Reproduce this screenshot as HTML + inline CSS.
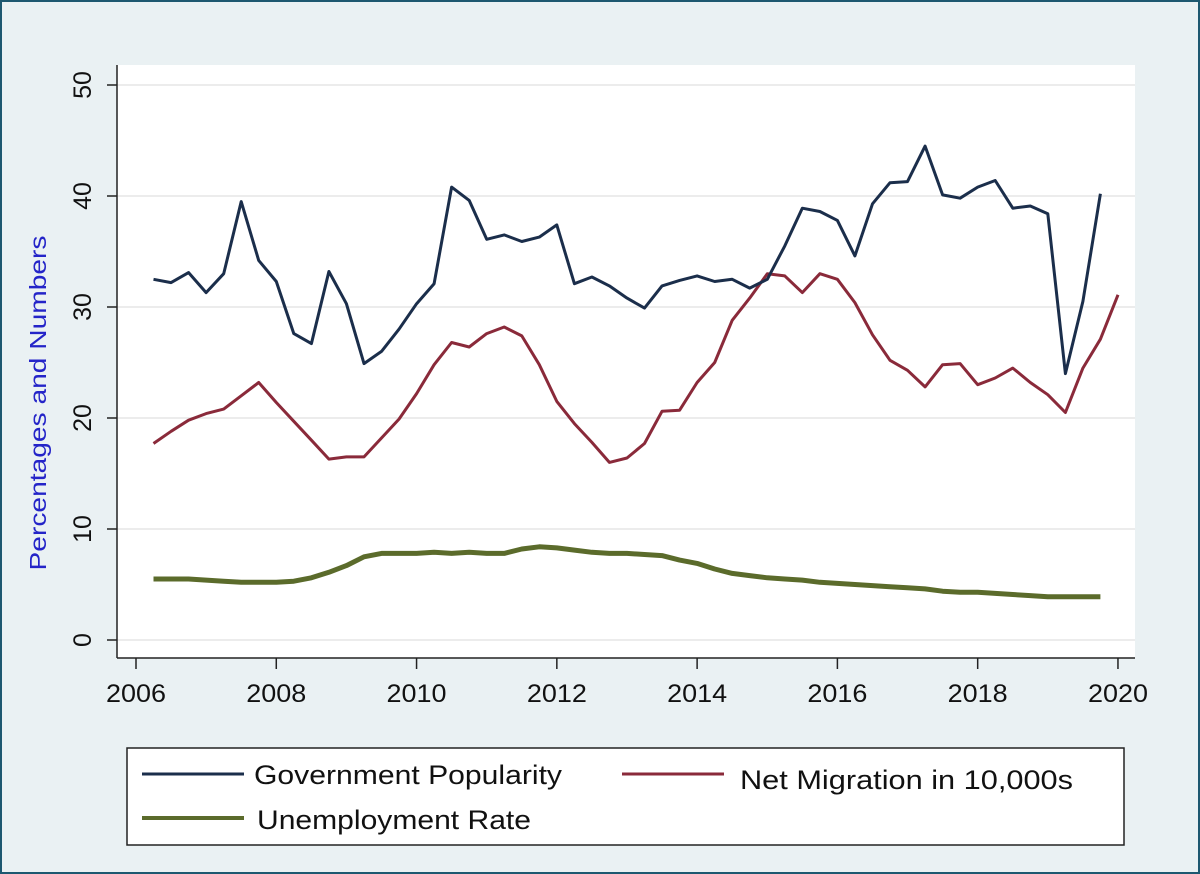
<!DOCTYPE html>
<html><head><meta charset="utf-8"><style>
html,body{margin:0;padding:0;background:#eaf1f3;}
svg{display:block;font-family:"Liberation Sans",Arial,sans-serif;}
</style></head><body>
<svg id="chart" width="1200" height="874" viewBox="0 0 1200 874">
<rect x="1" y="1" width="1198" height="872" fill="#eaf1f3" stroke="#1d5870" stroke-width="2"/>
<rect x="117" y="65" width="1018" height="593" fill="#ffffff"/>
<g id="grid"></g>
<g id="axes"></g>
<g id="series"></g>
<text x="46" y="403" transform="rotate(-90 46 403)" text-anchor="middle" font-size="23" textLength="335" lengthAdjust="spacingAndGlyphs" fill="#2424c8">Percentages and Numbers</text>
<g>
<rect x="127" y="748" width="997" height="97" fill="#ffffff" stroke="#222" stroke-width="1.5"/>
<line x1="142" y1="774" x2="244" y2="774" stroke="#1b2e4b" stroke-width="3"/>
<text x="254" y="784" font-size="27" textLength="308" lengthAdjust="spacingAndGlyphs" fill="#111">Government Popularity</text>
<line x1="622" y1="774" x2="724" y2="774" stroke="#8a2a3a" stroke-width="3"/>
<text x="740" y="789" font-size="27" textLength="333" lengthAdjust="spacingAndGlyphs" fill="#111">Net Migration in 10,000s</text>
<line x1="142" y1="818" x2="244" y2="818" stroke="#5b6b2b" stroke-width="4"/>
<text x="257" y="829" font-size="27" textLength="274" lengthAdjust="spacingAndGlyphs" fill="#111">Unemployment Rate</text>
</g>
</svg>
<script>
const yTicks = [0,10,20,30,40,50];
const xTicks = [2006,2008,2010,2012,2014,2016,2018,2020];
const govStart = 2006.25;
const government = [32.5,32.2,33.1,31.3,33,39.5,34.2,32.3,27.6,26.7,33.2,30.3,24.9,26,28,30.3,32.1,40.8,39.6,36.1,36.5,35.9,36.3,37.4,32.1,32.7,31.9,30.8,29.9,31.9,32.4,32.8,32.3,32.5,31.7,32.5,35.5,38.9,38.6,37.8,34.6,39.3,41.2,41.3,44.5,40.1,39.8,40.8,41.4,38.9,39.1,38.4,24,30.5,40.2];
const migration = [17.7,18.8,19.8,20.4,20.8,22,23.2,21.4,19.7,18,16.3,16.5,16.5,18.2,19.9,22.2,24.8,26.8,26.4,27.6,28.2,27.4,24.8,21.5,19.5,17.8,16,16.4,17.7,20.6,20.7,23.2,25,28.8,30.8,33,32.8,31.3,33,32.5,30.4,27.5,25.2,24.3,22.8,24.8,24.9,23,23.6,24.5,23.2,22.1,20.5,24.5,27.1,31.1];
const unemployment = [5.5,5.5,5.5,5.4,5.3,5.2,5.2,5.2,5.3,5.6,6.1,6.7,7.5,7.8,7.8,7.8,7.9,7.8,7.9,7.8,7.8,8.2,8.4,8.3,8.1,7.9,7.8,7.8,7.7,7.6,7.2,6.9,6.4,6,5.8,5.6,5.5,5.4,5.2,5.1,5,4.9,4.8,4.7,4.6,4.4,4.3,4.3,4.2,4.1,4,3.9,3.9,3.9,3.9];

const NS='http://www.w3.org/2000/svg';
const xs = t => 136 + (t-2006)*70.14;
const ys = v => 640 - v*11.1;
function mk(tag, attrs, parent){const e=document.createElementNS(NS,tag);for(const k in attrs)e.setAttribute(k,attrs[k]);parent.appendChild(e);return e;}
const grid=document.getElementById('grid'), axes=document.getElementById('axes'), ser=document.getElementById('series');

yTicks.forEach(v=>{
  const g=mk('line',{x1:117,x2:1135,y1:ys(v),y2:ys(v),stroke:'#ececec','stroke-width':2},grid);
  
  
  const t=mk('line',{x1:107,x2:117,y1:ys(v),y2:ys(v),stroke:'#222','stroke-width':1.5},axes);
  
  
  const y=ys(v), x=91;
  const l=mk('text',{x:x,y:y,transform:`rotate(-90 ${x} ${y})`,'text-anchor':'middle','font-size':25,fill:'#111'},axes);
  l.textContent=v;
  
  
});
xTicks.forEach(v=>{
  const t=mk('line',{x1:xs(v),x2:xs(v),y1:658,y2:669,stroke:'#222','stroke-width':1.5},axes);
  
  
  const l=mk('text',{x:xs(v),y:702,'text-anchor':'middle','font-size':25,textLength:60,lengthAdjust:'spacingAndGlyphs',fill:'#111'},axes);
  l.textContent=v;
  
  
});
const ya=mk('line',{x1:117,x2:117,y1:65,y2:658,stroke:'#222','stroke-width':1.5},axes);


const xa=mk('line',{x1:117,x2:1135,y1:658,y2:658,stroke:'#222','stroke-width':1.5},axes);



function pts(arr){return arr.map((v,i)=>xs(govStart+i*0.25).toFixed(1)+','+ys(v).toFixed(1)).join(' ');}
const u=mk('polyline',{points:pts(unemployment),fill:'none',stroke:'#5b6b2b','stroke-width':5,'stroke-linejoin':'round'},ser);


const m=mk('polyline',{points:pts(migration),fill:'none',stroke:'#8a2a3a','stroke-width':3,'stroke-linejoin':'round'},ser);


const g=mk('polyline',{points:pts(government),fill:'none',stroke:'#1b2e4b','stroke-width':3,'stroke-linejoin':'round'},ser);


</script>
</body></html>
